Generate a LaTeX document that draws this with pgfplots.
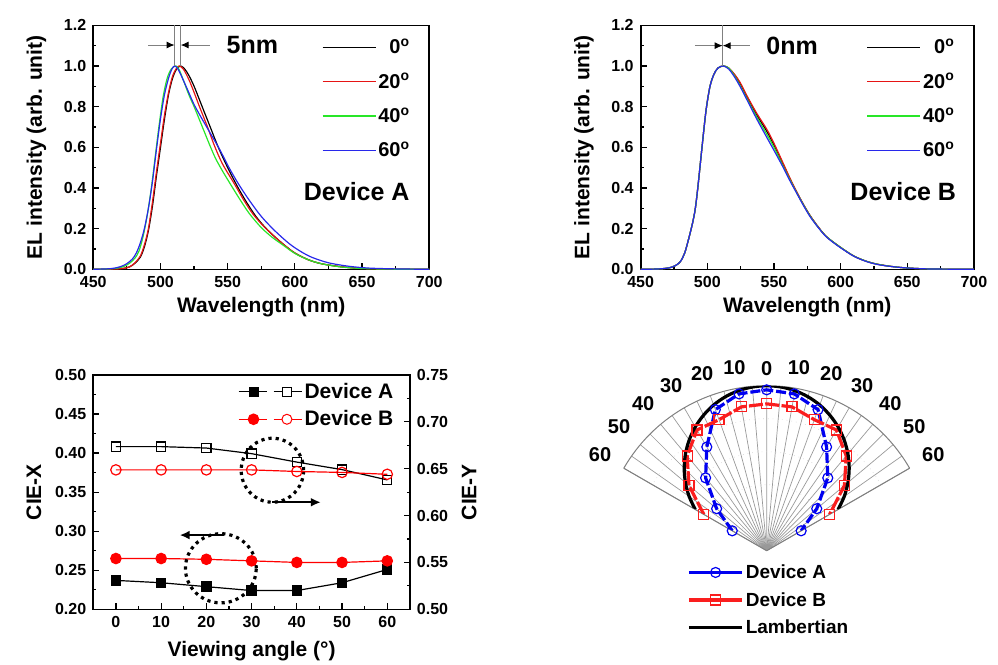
\documentclass[border=0pt]{standalone}
\usepackage{fontspec}
\setmainfont{Liberation Sans}
\usepackage{pgfplots}
\pgfplotsset{compat=1.18}
\usepgfplotslibrary{polar}
\usetikzlibrary{arrows.meta}

\definecolor{elred}{RGB}{230,20,20}
\definecolor{elgreen}{RGB}{40,230,40}
\definecolor{elblue}{RGB}{40,40,235}
\definecolor{pblue}{RGB}{0,0,240}
\definecolor{pred}{RGB}{250,30,30}

\pgfplotsset{
  common/.style={
    scale only axis,
    tick pos=left, tick align=inside,
    major tick length=3pt, minor tick length=1.6pt,
    every tick/.style={black, line width=0.6pt},
    axis line style={line width=0.8pt},
    /pgf/number format/assume math mode=true,
    tick label style={font=\fontsize{8}{9}\selectfont\bfseries},
    label style={font=\fontsize{10.5}{12}\selectfont\bfseries},
  },
  elaxis/.style={
    common,
    width=168pt, height=122pt,
    xmin=450, xmax=700, ymin=0, ymax=1.2,
    xtick distance=50, ytick distance=0.2,
    minor x tick num=1, minor y tick num=1,
    yticklabel style={/pgf/number format/.cd, fixed, fixed zerofill, precision=1},
    xlabel={Wavelength (nm)}, ylabel={EL intensity (arb. unit)},
    xlabel style={yshift=2pt}, ylabel style={yshift=2pt},
    legend cell align=right,
    legend image code/.code={\draw[#1] (0pt,0pt) -- (26.5pt,0pt);},
    legend style={draw=none, fill=none, inner sep=0pt,
      at={(axis description cs:0.95,0.955)}, anchor=north east,
      font=\fontsize{10}{10}\selectfont\bfseries,
      nodes={inner sep=1pt, text height=7.5pt, text depth=1pt}, row sep=6.7pt},
  },
  every axis plot/.append style={line width=0.6pt},
}

\begin{document}
\begin{tikzpicture}[x=0.5pt, y=-0.5pt]
\useasboundingbox (0,0) rectangle (998,665);
\coordinate (tl) at (93.3,269.3);
\coordinate (tr) at (640.7,269.3);
\coordinate (bl) at (93.3,609.3);
\coordinate (pc) at (766.7,550.7);

% ---------- Device A spectra ----------
\begin{axis}[elaxis, at={(tl)}, anchor=south west]
\addplot[black, smooth] coordinates {
(450,0)(465,0.001)(472,0.004)(477,0.012)(481,0.03)(485,0.06)(488,0.11)(491,0.19)
(494,0.31)(497,0.46)(500,0.6)(503,0.74)(506,0.86)(509,0.94)(512,0.985)(515,1.0)
(518,0.985)(521,0.955)(525,0.9)(531,0.8)(537,0.7)(543,0.6)(550,0.5)(557,0.41)
(564,0.33)(571,0.26)(578,0.205)(585,0.16)(592,0.12)(600,0.08)(610,0.047)
(620,0.027)(635,0.012)(650,0.004)(670,0.001)(700,0)};
\addlegendentry{0\textsuperscript{o}}
\addplot[elred, smooth] coordinates {
(450,0)(465,0.001)(472,0.004)(477,0.012)(481,0.032)(485,0.065)(488,0.12)(491,0.2)
(494,0.33)(497,0.48)(500,0.62)(503,0.76)(506,0.87)(509,0.95)(512,0.99)(514,1.0)
(517,0.985)(521,0.935)(525,0.87)(529,0.8)(535,0.7)(540,0.61)(546,0.52)(555,0.42)
(562,0.34)(569,0.27)(577,0.21)(585,0.16)(592,0.12)(600,0.08)(610,0.047)
(620,0.027)(635,0.012)(650,0.004)(670,0.001)(700,0)};
\addlegendentry{20\textsuperscript{o}}
\addplot[elgreen, smooth] coordinates {
(450,0)(462,0.002)(468,0.006)(473,0.015)(477,0.03)(481,0.055)(484,0.09)(487,0.16)
(490,0.26)(493,0.39)(496,0.55)(499,0.71)(502,0.85)(505,0.94)(508,0.985)(511.5,1.0)
(514,0.98)(517,0.93)(521,0.86)(525,0.8)(529,0.735)(533,0.67)(537,0.605)(541,0.545)
(546,0.485)(551,0.43)(558,0.355)(566,0.275)(575,0.205)(583,0.158)(591,0.12)(600,0.078)
(610,0.047)(620,0.027)(635,0.011)(650,0.004)(670,0.001)(700,0)};
\addlegendentry{40\textsuperscript{o}}
\addplot[elblue, smooth] coordinates {
(450,0)(460,0.002)(466,0.006)(471,0.015)(475,0.028)(479,0.05)(482,0.08)(485,0.13)
(488,0.2)(491,0.3)(494,0.43)(497,0.59)(500,0.74)(503,0.86)(506,0.94)(508.5,0.985)
(510.5,1.0)(513,0.985)(517,0.93)(521,0.87)(525,0.81)(530,0.75)(537,0.67)(544,0.59)
(551,0.5)(558,0.42)(566,0.34)(575,0.26)(585,0.19)(596,0.125)(605,0.085)(613,0.058)
(625,0.032)(640,0.015)(655,0.006)(675,0.002)(700,0)};
\addlegendentry{60\textsuperscript{o}}
\draw[gray, line width=0.5pt] (axis cs:510.5,1.0) -- (axis cs:510.5,1.2);
\draw[gray, line width=0.5pt] (axis cs:515,1.0) -- (axis cs:515,1.2);
\draw[gray, line width=0.5pt, -{Latex[black,length=4pt,width=3.5pt]}] (axis cs:490.8,1.103) -- (axis cs:510.5,1.103);
\draw[gray, line width=0.5pt, -{Latex[black,length=4pt,width=3.5pt]}] (axis cs:536.6,1.103) -- (axis cs:515,1.103);
\node[anchor=west, font=\fontsize{12.5}{14}\selectfont\bfseries] at (axis cs:544,1.103) {5nm};
\node[font=\fontsize{12.5}{14}\selectfont\bfseries] at (axis cs:646,0.38) {Device A};
\end{axis}

% ---------- Device B spectra ----------
\begin{axis}[elaxis, at={(tr)}, anchor=south west, width=166.6pt]
\addplot[black, smooth] coordinates {
(450,0)(460,0.001)(468,0.004)(473,0.01)(477,0.022)(480,0.04)(483,0.08)(486,0.15)
(489,0.23)(491,0.3)(493,0.41)(496,0.6)(499,0.78)(502,0.9)(505,0.96)(508,0.99)
(512,1.0)(516,0.99)(520,0.96)(524.5,0.915)(530,0.845)(537,0.76)(544.5,0.68)
(550,0.61)(557,0.515)(562,0.445)(567,0.38)(572,0.32)(577,0.265)(583,0.21)
(589.5,0.16)(599.5,0.11)(610,0.065)(620,0.038)(630,0.022)(645,0.009)(665,0.002)(700,0)};
\addlegendentry{0\textsuperscript{o}}
\addplot[elred, smooth] coordinates {
(450,0)(460,0.001)(468,0.004)(473,0.01)(477,0.022)(480,0.04)(483,0.08)(486,0.15)
(489,0.23)(491,0.3)(493,0.41)(496,0.6)(499,0.78)(502,0.9)(505,0.96)(508,0.99)
(512,1.0)(516,0.99)(520,0.962)(524.5,0.92)(530,0.85)(537,0.768)(544.5,0.69)
(550,0.62)(557,0.52)(562,0.448)(567,0.382)(572,0.32)(577,0.265)(583,0.21)
(589.5,0.16)(599.5,0.11)(610,0.065)(620,0.038)(630,0.022)(645,0.009)(665,0.002)(700,0)};
\addlegendentry{20\textsuperscript{o}}
\addplot[elgreen, smooth] coordinates {
(450,0)(460,0.001)(468,0.004)(473,0.01)(477,0.022)(480,0.04)(483,0.08)(486,0.15)
(489,0.23)(491,0.3)(493,0.41)(496,0.6)(499,0.78)(502,0.9)(505,0.96)(508,0.99)
(512,1.0)(516,0.99)(520,0.955)(524.5,0.905)(530,0.835)(537,0.75)(544.5,0.665)
(550,0.6)(557,0.505)(562,0.44)(567,0.377)(572,0.318)(577,0.263)(583,0.208)
(589.5,0.16)(599.5,0.11)(610,0.065)(620,0.038)(630,0.022)(645,0.009)(665,0.002)(700,0)};
\addlegendentry{40\textsuperscript{o}}
\addplot[elblue, smooth] coordinates {
(450,0)(460,0.001)(468,0.004)(473,0.01)(477,0.022)(480,0.04)(483,0.08)(486,0.15)
(489,0.23)(491,0.3)(493,0.41)(496,0.6)(499,0.78)(502,0.9)(505,0.96)(508,0.99)
(512,1.0)(516,0.985)(520,0.95)(524.5,0.9)(530,0.83)(537,0.74)(544.5,0.65)
(550,0.585)(557,0.5)(562,0.435)(567,0.375)(572,0.315)(577,0.26)(583,0.207)
(589.5,0.158)(599.5,0.108)(610,0.064)(620,0.037)(630,0.021)(645,0.009)(665,0.002)(700,0)};
\addlegendentry{60\textsuperscript{o}}
\draw[gray, line width=0.5pt] (axis cs:511.5,1.0) -- (axis cs:511.5,1.2);
\draw[gray, line width=0.5pt, -{Latex[black,length=4pt,width=3.5pt]}] (axis cs:490.7,1.1) -- (axis cs:511.5,1.1);
\draw[gray, line width=0.5pt, -{Latex[black,length=4pt,width=3.5pt]}] (axis cs:532,1.1) -- (axis cs:511.5,1.1);
\node[anchor=west, font=\fontsize{12.5}{14}\selectfont\bfseries] at (axis cs:539,1.1) {0nm};
\node[font=\fontsize{12.5}{14}\selectfont\bfseries] at (axis cs:647,0.38) {Device B};
\end{axis}

% ---------- CIE coordinates ----------
\begin{axis}[common, at={(bl)}, anchor=south west,
  width=158.3pt, height=117.2pt,
  xmin=-5, xmax=65, ymin=0.2, ymax=0.5,
  xtick={0,10,...,60}, minor x tick num=1,
  ytick distance=0.05, minor y tick num=1,
  yticklabel style={/pgf/number format/.cd, fixed, fixed zerofill, precision=2},
  xlabel={Viewing angle (\textdegree)}, ylabel={CIE-X},
  legend style={draw=none, fill=none, inner sep=0pt,
    at={(axis description cs:0.955,0.975)}, anchor=north east,
    font=\fontsize{10.5}{11}\selectfont\bfseries,
    nodes={inner sep=1pt, text height=7.5pt, text depth=1pt}, row sep=3.3pt},
  legend cell align=left]
\addlegendimage{legend image code/.code={
  \draw[black, line width=0.6pt] (0pt,0pt) -- (14pt,0pt);
  \draw[black, line width=0.6pt] (17.5pt,0pt) -- (31.7pt,0pt);
  \fill[black] (5.3pt,-2.25pt) rectangle (9.8pt,2.25pt);
  \draw[black, fill=white, line width=0.5pt] (22pt,-2.25pt) rectangle (26.5pt,2.25pt);}}
\addlegendentry{Device A}
\addlegendimage{legend image code/.code={
  \draw[red, line width=0.6pt] (0pt,0pt) -- (14pt,0pt);
  \draw[red, line width=0.6pt] (17.5pt,0pt) -- (31.7pt,0pt);
  \fill[red] (7.5pt,0pt) circle (2.6pt);
  \draw[red, fill=white, line width=0.5pt] (24.2pt,0pt) circle (2.5pt);}}
\addlegendentry{Device B}
\addplot[black, mark=square*, mark size=2.3pt, forget plot] coordinates {
(0,0.237)(10,0.234)(20,0.229)(30,0.224)(40,0.224)(50,0.234)(60,0.251)};
\addplot[red, mark=*, mark size=2.6pt, forget plot] coordinates {
(0,0.265)(10,0.265)(20,0.264)(30,0.262)(40,0.260)(50,0.260)(60,0.262)};
\draw[black, line width=1.6pt, dotted] (axis cs:34.6,0.378) ellipse [x radius=15.6pt, y radius=16pt];
\draw[black, line width=1.6pt, dotted] (axis cs:23.2,0.2525) ellipse [x radius=17.7pt, y radius=17.3pt];
\draw[black, line width=1.2pt, -{Latex[length=5pt,width=4.5pt]}] (axis cs:34.6,0.337) -- (axis cs:45.3,0.337);
\draw[black, line width=1.2pt, -{Latex[length=5pt,width=4.5pt]}] (axis cs:23.9,0.295) -- (axis cs:14.1,0.295);
\end{axis}
\begin{axis}[common, at={(bl)}, anchor=south west,
  width=158.3pt, height=117.2pt,
  xmin=-5, xmax=65, ymin=0.5, ymax=0.75,
  axis x line=none, axis y line*=right, tick pos=right,
  ytick distance=0.05, minor y tick num=1,
  yticklabel style={/pgf/number format/.cd, fixed, fixed zerofill, precision=2},
  ylabel={CIE-Y}]
\addplot[black, mark=square, mark size=2.3pt, mark options={fill=white}] coordinates {
(0,0.6735)(10,0.6735)(20,0.672)(30,0.666)(40,0.657)(50,0.649)(60,0.638)};
\addplot[red, mark=o, mark size=2.6pt, mark options={fill=white}] coordinates {
(0,0.6487)(10,0.6487)(20,0.6487)(30,0.6487)(40,0.647)(50,0.646)(60,0.644)};
\end{axis}

% ---------- angular distribution ----------
\begin{polaraxis}[at={(pc)}, anchor=origin,
  scale only axis, width=165pt, height=165pt,
  xmin=30, xmax=150, ymin=0, ymax=1,
  xtick={30,40,...,150},
  xticklabels={60,50,40,30,20,10,0,10,20,30,40,50,60},
  minor x tick num=1,
  ytick={0.2,0.4,0.6,0.8,1.0}, yticklabels={},
  major tick length=0pt, minor tick length=0pt,
  xmajorgrids, xminorgrids, ymajorgrids,
  major grid style={gray!80, line width=0.35pt},
  minor grid style={gray!80, line width=0.35pt},
  every axis y grid/.style={gray!35, dotted, line width=0.3pt},
  axis line style={gray, line width=0.5pt},
  /pgf/number format/assume math mode=true,
  tick label style={font=\fontsize{10}{11}\selectfont\bfseries},
  xticklabel style={inner sep=5pt},
  legend image code/.code={\draw[#1, solid, mark repeat=2, mark phase=2]
    plot coordinates {(0pt,0pt) (13.3pt,0pt) (26.6pt,0pt)};},
  legend style={draw=none, fill=none, inner sep=0pt,
    at={(axis cs:188.1,0.488)}, anchor=north west,
    font=\fontsize{9.5}{10}\selectfont\bfseries,
    nodes={inner sep=1pt, text height=7pt, text depth=1pt}, row sep=3.8pt},
  legend cell align=left]
\addplot[pblue, line width=1.6pt, dash pattern=on 5pt off 1.5pt, mark=o, mark size=2.5pt,
  mark options={solid, fill=white, line width=0.6pt}] coordinates {
(150,0.241)(140,0.396)(130,0.576)(120,0.726)(110,0.91)(100,0.965)(90,0.975)
(80,0.965)(70,0.91)(60,0.726)(50,0.576)(40,0.396)(30,0.241)};
\addlegendentry{Device A}
\addplot[pred, line width=1.6pt, dash pattern=on 7pt off 1.2pt, mark=square, mark size=2.5pt,
  mark options={solid, fill=white, line width=0.6pt}] coordinates {
(150,0.44)(140,0.615)(130,0.75)(120,0.845)(110,0.845)(100,0.885)(90,0.89)
(80,0.885)(70,0.845)(60,0.845)(50,0.75)(40,0.615)(30,0.44)};
\addlegendentry{Device B}
\addplot[black, line width=1.6pt, smooth] coordinates {
(150,0.5)(145,0.574)(140,0.643)(135,0.707)(130,0.766)(125,0.819)(120,0.866)
(115,0.906)(110,0.94)(105,0.966)(100,0.985)(95,0.996)(90,1.0)(85,0.996)(80,0.985)
(75,0.966)(70,0.94)(65,0.906)(60,0.866)(55,0.819)(50,0.766)(45,0.707)(40,0.643)
(35,0.574)(30,0.5)};
\addlegendentry{Lambertian}
\end{polaraxis}
\end{tikzpicture}
\end{document}
